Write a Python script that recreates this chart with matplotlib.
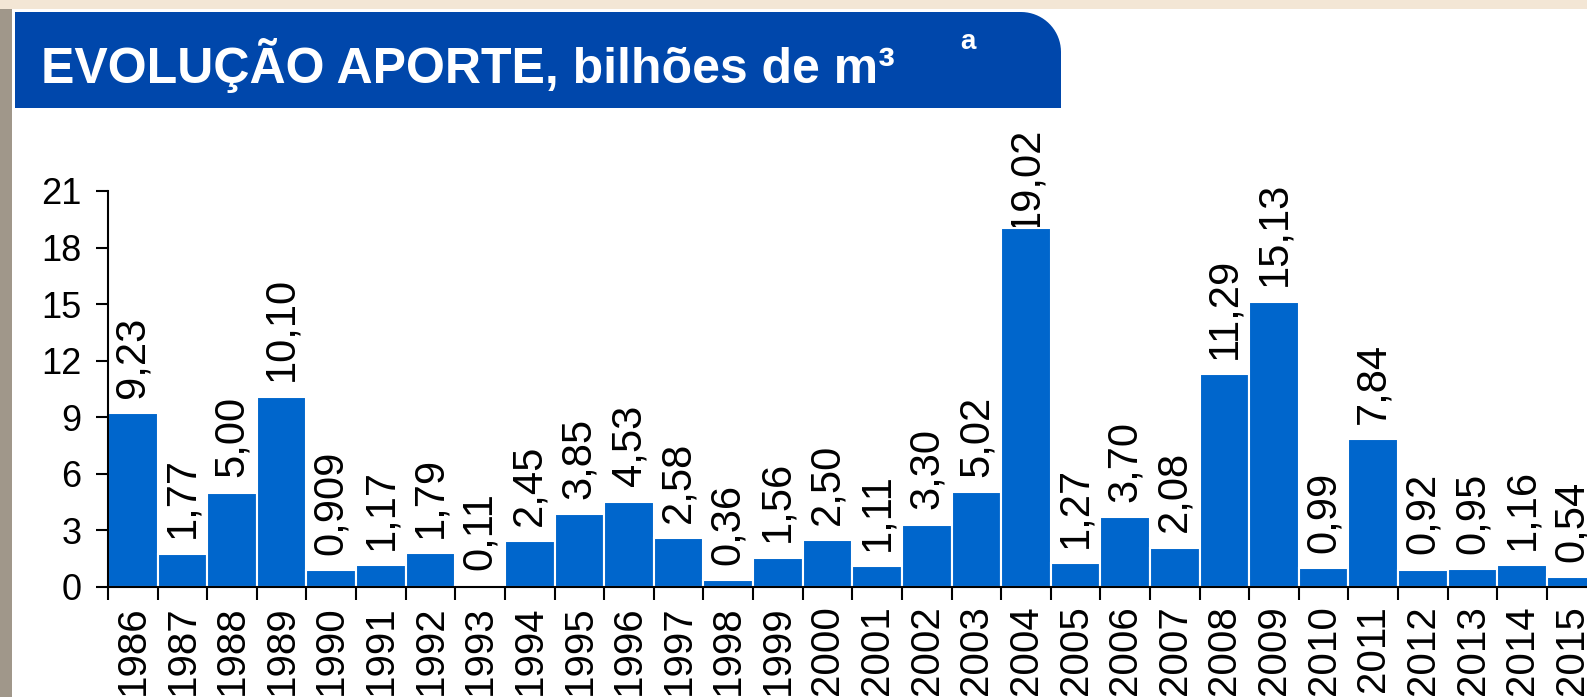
import numpy as np
import matplotlib
matplotlib.use('Agg')
import matplotlib.pyplot as plt
from matplotlib.patches import Rectangle, Polygon

plt.rcParams['font.family'] = ['Liberation Sans', 'DejaVu Sans']

years = [str(y) for y in range(1986, 2016)]
aporte = [9.23, 1.77, 5.00, 10.10, 0.909, 1.17, 1.79, 0.11, 2.45, 3.85,
          4.53, 2.58, 0.36, 1.56, 2.50, 1.11, 3.30, 5.02, 19.02, 1.27,
          3.70, 2.08, 11.29, 15.13, 0.99, 7.84, 0.92, 0.95, 1.16, 0.54]
value_labels = ['9,23', '1,77', '5,00', '10,10', '0,909', '1,17', '1,79', '0,11', '2,45', '3,85',
                '4,53', '2,58', '0,36', '1,56', '2,50', '1,11', '3,30', '5,02', '19,02', '1,27',
                '3,70', '2,08', '11,29', '15,13', '0,99', '7,84', '0,92', '0,95', '1,16', '0,54']
yticks = [0, 3, 6, 9, 12, 15, 18, 21]

W, H = 1587, 697
fig = plt.figure(figsize=(W / 100, H / 100), dpi=100, facecolor='white')


def fx(px):
    return px / W


def fy(py):
    return 1 - py / H


# page background: beige strip on top, grey strip on the left
fig.patches.append(Rectangle((0, fy(9)), 1, 9 / H, transform=fig.transFigure,
                             facecolor='#F3E6D5', edgecolor='none', zorder=0))
fig.patches.append(Rectangle((0, 0), fx(12), fy(9), transform=fig.transFigure,
                             facecolor='#A0978A', edgecolor='none', zorder=0))

# header box with rounded top-right corner
x0, x1, yt, yb, r = 15, 1061, 12, 108, 40
t = np.linspace(np.pi / 2, 0, 20)
pts = [(x0, yb), (x0, yt), (x1 - r, yt)]
pts += [(x1 - r + r * np.cos(a), yt + r - r * np.sin(a)) for a in t]
pts += [(x1, yb)]
fig.patches.append(Polygon([(fx(a), fy(b)) for a, b in pts], closed=True,
                           transform=fig.transFigure, facecolor='#0047AB',
                           edgecolor='none', zorder=1))
fig.text(fx(41), fy(83), 'EVOLUÇÃO APORTE, bilhões de m³', color='white',
         fontsize=36, fontweight='bold', ha='left', va='baseline')
fig.text(fx(968), fy(42), 'a', color='white', fontsize=20, fontweight='bold',
         ha='center', va='center')

ax = fig.add_axes([fx(108), 1 - 587 / H, 30 * 49.62 / W, (587 - 191) / H])
x = np.arange(len(years))
ax.bar(x, aporte, width=1.0, color='#0066CC', edgecolor='white', linewidth=1.5, zorder=3)

top = max(aporte)
for i, (v, lbl) in enumerate(zip(aporte, value_labels)):
    # the tallest label is pushed down under the header, onto its bar
    off = -2 if v == top else 11
    ax.annotate(lbl, (i, v), xytext=(0, off), textcoords='offset points',
                rotation=90, ha='center', va='bottom', fontsize=30,
                annotation_clip=False, zorder=2)

ax.set_xlim(-0.5, len(years) - 0.5)
ax.set_ylim(0, 21)
ax.set_yticks(yticks)
ax.set_yticklabels([str(v) for v in yticks])
ax.set_xticks(x)
ax.set_xticklabels(years, rotation=90, fontsize=29)
ax.set_xticks(np.arange(len(years)) - 0.5, minor=True)
ax.tick_params(axis='x', which='major', length=0, pad=13)
ax.tick_params(axis='x', which='minor', length=9, width=1.5, direction='out')
ax.tick_params(axis='y', length=9, width=1.5, labelsize=26, pad=10)

for s in ['top', 'right']:
    ax.spines[s].set_visible(False)
for s in ['left', 'bottom']:
    ax.spines[s].set_linewidth(1.5)
    ax.spines[s].set_zorder(4)
ax.patch.set_alpha(0)

fig.savefig('out.png', dpi=100)
